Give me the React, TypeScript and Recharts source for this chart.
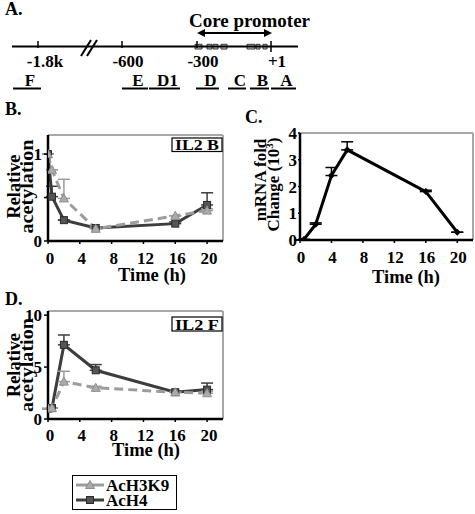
import { ComposedChart, LineChart, Line, XAxis, YAxis, ErrorBar, ReferenceLine, ReferenceArea } from 'recharts';

const SERIF = '"Liberation Serif", "Times New Roman", serif';
const H4_COLOR = '#3d3d3d';
const H3_COLOR = '#9c9c9c';
const FRAME = '#a8a8a8';

// panel A: IL2 locus schematic, in drawing units along the line
const siteLabels = ['-1.8k', '-600', '-300', '+1'];
const sitePos = [38, 122, 197, 271];
const regionNames = ['F', 'E', 'D1', 'D', 'C', 'B', 'A'];
const regionFrom = [13, 122, 149, 196, 228, 250, 271];
const regionTo = [41, 148, 180, 219, 246, 269, 296];
const elementFrom = [195, 207, 213, 221, 247, 256, 263];
const elementTo = [202, 212, 218, 227, 255, 260, 267];

// panels B and D: ChIP time course
const hoursChip = [0, 0.5, 2, 6, 16, 20];
const il2bH3K9 = [1.0, 0.82, 0.49, 0.14, 0.29, 0.35];
const il2bH3K9Err = [0, 0, 0.22, 0.02, 0, 0.02];
const il2bH4 = [1.0, 0.51, 0.24, 0.15, 0.2, 0.415];
const il2bH4Err = [0, 0.12, 0, 0, 0.02, 0.14];
const il2fH3K9 = [1.0, 1.05, 3.6, 3.0, 2.58, 2.48];
const il2fH3K9Err = [0, 0, 1.0, 0.15, 0, 0.2];
const il2fH4 = [1.0, 1.05, 7.14, 4.69, 2.58, 2.83];
const il2fH4Err = [0, 0, 0.95, 0.55, 0.1, 0.63];

// panel C: mRNA fold change (x10^3)
const hoursMrna = [0, 0.5, 2, 4, 6, 16, 20];
const mrnaFold = [0, 0.02, 0.59, 2.41, 3.37, 1.81, 0.29];
const mrnaErr = [0, 0, 0.05, 0.3, 0.3, 0.05, 0];

const timeTicks = [0, 4, 8, 12, 16, 20];
const legendNames = ['AcH3K9', 'AcH4'];

const tickStyle = { fill: '#000', fontSize: 17, fontWeight: 700, fontFamily: SERIF };
const axisLine = { stroke: '#000', strokeWidth: 2.5 };
const tickLine = { stroke: '#000', strokeWidth: 1.5 };

function chipRows(h3: number[], h3Err: number[], h4: number[], h4Err: number[]) {
  return hoursChip.map((t, i) => ({ t, h3: h3[i], h3Err: [0, h3Err[i]], h4: h4[i], h4Err: [0, h4Err[i]] }));
}

const SquareDot = (p: any) =>
  p.cx == null ? null : (
    <rect key={`sq-${p.index}`} x={p.cx - 3.5} y={p.cy - 3.5} width={7} height={7} fill="#555" stroke="#2a2a2a" strokeWidth={1} />
  );

const TriangleDot = (p: any) =>
  p.cx == null ? null : (
    <polygon
      key={`tr-${p.index}`}
      points={`${p.cx},${p.cy - 4.5} ${p.cx - 4.5},${p.cy + 3.5} ${p.cx + 4.5},${p.cy + 3.5}`}
      fill="#ababab"
      stroke="#8e8e8e"
      strokeWidth={1}
    />
  );

const DiamondDot = (p: any) =>
  p.cx == null ? null : (
    <polygon
      key={`dm-${p.index}`}
      points={`${p.cx},${p.cy - 3.5} ${p.cx + 3.5},${p.cy} ${p.cx},${p.cy + 3.5} ${p.cx - 3.5},${p.cy}`}
      fill="#000"
    />
  );

interface ChipPanelProps {
  rows: ReturnType<typeof chipRows>;
  yMax: number;
  yTicks: number[];
  hideTick?: number;
  top: number;
  bottom: number;
  tickGap: number;
}

function ChipPanel({ rows, yMax, yTicks, hideTick, top, bottom, tickGap }: ChipPanelProps) {
  return (
    <LineChart width={235} height={185} data={rows} margin={{ top, right: 12, bottom: 0, left: 0 }}>
      <ReferenceLine y={yMax} stroke={FRAME} strokeWidth={2} ifOverflow="visible" />
      <ReferenceLine x={22} stroke={FRAME} strokeWidth={2} ifOverflow="visible" />
      <XAxis
        dataKey="t"
        type="number"
        domain={[0, 22]}
        ticks={timeTicks}
        allowDataOverflow
        axisLine={axisLine}
        tickLine={tickLine}
        tickSize={3}
        tickMargin={tickGap}
        height={bottom}
        tick={{ ...tickStyle, dx: 2 }}
        interval={0}
      />
      <YAxis
        type="number"
        domain={[0, yMax]}
        ticks={yTicks}
        allowDataOverflow
        axisLine={axisLine}
        tickLine={tickLine}
        tickSize={4}
        tickMargin={2}
        width={48}
        tick={tickStyle}
        interval={0}
        tickFormatter={(v: number) => (v === hideTick ? '' : String(v))}
      />
      <Line
        dataKey="h4"
        type="linear"
        stroke={H4_COLOR}
        strokeWidth={3}
        dot={SquareDot}
        activeDot={false}
        isAnimationActive={false}
      >
        <ErrorBar dataKey="h4Err" width={6} stroke={H4_COLOR} strokeWidth={1.5} direction="y" />
      </Line>
      <Line
        dataKey="h3"
        type="linear"
        stroke={H3_COLOR}
        strokeWidth={3}
        strokeDasharray="9 5"
        dot={TriangleDot}
        activeDot={false}
        isAnimationActive={false}
      >
        <ErrorBar dataKey="h3Err" width={6} stroke={H3_COLOR} strokeWidth={1.5} direction="y" />
      </Line>
    </LineChart>
  );
}

function MrnaPanel() {
  const rows = hoursMrna.map((t, i) => ({ t, fold: mrnaFold[i], err: [0, mrnaErr[i]] }));
  return (
    <LineChart width={225} height={185} data={rows} margin={{ top: 40, right: 2, bottom: 0, left: 0 }}>
      <ReferenceLine y={4} stroke={FRAME} strokeWidth={2} ifOverflow="visible" />
      <ReferenceLine x={22} stroke={FRAME} strokeWidth={2} ifOverflow="visible" />
      <XAxis
        dataKey="t"
        type="number"
        domain={[0, 22]}
        ticks={timeTicks}
        allowDataOverflow
        axisLine={axisLine}
        tickLine={tickLine}
        tickSize={3}
        tickMargin={8}
        height={38}
        tick={{ ...tickStyle, dx: 1 }}
        interval={0}
      />
      <YAxis
        type="number"
        domain={[0, 4]}
        ticks={[0, 1, 2, 3, 4]}
        allowDataOverflow
        axisLine={axisLine}
        tickLine={tickLine}
        tickSize={2}
        tickMargin={1}
        width={50}
        tick={tickStyle}
        interval={0}
      />
      <Line
        dataKey="fold"
        type="linear"
        stroke="#000"
        strokeWidth={3}
        dot={DiamondDot}
        activeDot={false}
        isAnimationActive={false}
      >
        <ErrorBar dataKey="err" width={6} stroke="#000" strokeWidth={1.5} direction="y" />
      </Line>
    </LineChart>
  );
}

const DoubleArrow = (p: any) => {
  const { x1, y1, x2, y2 } = p;
  if (x1 == null) return null;
  return (
    <g>
      <line x1={x1 + 4} y1={y1} x2={x2 - 4} y2={y2} stroke="#000" strokeWidth={2} />
      <polygon points={`${x1},${y1} ${x1 + 8},${y1 - 4} ${x1 + 8},${y1 + 4}`} fill="#000" />
      <polygon points={`${x2},${y2} ${x2 - 8},${y2 - 4} ${x2 - 8},${y2 + 4}`} fill="#000" />
    </g>
  );
};

function LocusPanel() {
  const rows = sitePos.map((x) => ({ x }));
  return (
    <ComposedChart width={475} height={95} data={rows} margin={{ top: 0, right: 0, bottom: 0, left: 0 }}>
      <XAxis dataKey="x" type="number" domain={[0, 475]} hide allowDataOverflow />
      <YAxis type="number" domain={[0, 95]} reversed hide allowDataOverflow />
      <ReferenceLine segment={[{ x: 12, y: 46.5 }, { x: 298, y: 46.5 }]} stroke="#000" strokeWidth={2} ifOverflow="visible" />
      {sitePos.map((x, i) => (
        <ReferenceLine
          key={siteLabels[i]}
          segment={[{ x, y: 41 }, { x, y: i === sitePos.length - 1 ? 52 : 48 }]}
          stroke="#000"
          strokeWidth={1.5}
          ifOverflow="visible"
        />
      ))}
      <ReferenceLine segment={[{ x: 81, y: 56 }, { x: 91, y: 40 }]} stroke="#000" strokeWidth={2} ifOverflow="visible" />
      <ReferenceLine segment={[{ x: 87, y: 56 }, { x: 97, y: 40 }]} stroke="#000" strokeWidth={2} ifOverflow="visible" />
      {elementFrom.map((x1, i) => (
        <ReferenceArea
          key={`el-${i}`}
          x1={x1}
          x2={elementTo[i]}
          y1={44.3}
          y2={49}
          fill="#c8c8c8"
          fillOpacity={1}
          stroke="#333"
          strokeWidth={1}
          ifOverflow="visible"
        />
      ))}
      <ReferenceLine segment={[{ x: 197, y: 33 }, { x: 272, y: 33 }]} shape={DoubleArrow} ifOverflow="visible" />
      {regionFrom.map((x1, i) => (
        <ReferenceLine
          key={regionNames[i]}
          segment={[{ x: x1, y: 88.5 }, { x: regionTo[i], y: 88.5 }]}
          stroke="#000"
          strokeWidth={2}
          ifOverflow="visible"
        />
      ))}
    </ComposedChart>
  );
}

const textProps = { fontFamily: SERIF, fontWeight: 700, fill: '#000' };

function VLabel({ x, y, lines, size, lengths }: { x: number[]; y: number; lines: React.ReactNode[]; size: number; lengths?: number[] }) {
  return (
    <>
      {lines.map((line, i) => (
        <text
          key={i}
          transform={`translate(${x[i]},${y}) rotate(-90)`}
          textAnchor="middle"
          fontSize={size}
          textLength={lengths ? lengths[i] : undefined}
          lengthAdjust="spacingAndGlyphs"
          {...textProps}
        >
          {line}
        </text>
      ))}
    </>
  );
}

function Overlay() {
  return (
    <svg width={475} height={514} style={{ position: 'absolute', left: 0, top: 0, pointerEvents: 'none' }}>
      <text x={5} y={15} fontSize={18} {...textProps}>A.</text>
      <text x={189} y={27} fontSize={18} textLength={121} lengthAdjust="spacingAndGlyphs" {...textProps}>Core promoter</text>
      {siteLabels.map((label, i) => (
        <text key={label} x={sitePos[i] + (i === 0 ? 7 : 6)} y={66.5} fontSize={17} textAnchor="middle" {...textProps}>
          {label}
        </text>
      ))}
      {regionNames.map((name, i) => (
        <text key={name} x={(regionFrom[i] + regionTo[i]) / 2 + 3} y={86} fontSize={17} textAnchor="middle" {...textProps}>
          {name}
        </text>
      ))}

      <text x={5} y={115} fontSize={18} {...textProps}>B.</text>
      <VLabel x={[20, 33]} y={186.5} lines={['Relative', 'acetylation']} size={18} lengths={[64, 94]} />
      <rect x={172} y={138} width={50} height={13.5} fill="#fff" stroke="#000" strokeWidth={1.2} />
      <text x={197} y={150} fontSize={15} textAnchor="middle" textLength={44} lengthAdjust="spacingAndGlyphs" {...textProps}>IL2 B</text>
      <text x={152} y={280.5} fontSize={18} textAnchor="middle" textLength={68} lengthAdjust="spacingAndGlyphs" {...textProps}>Time (h)</text>

      <text x={245} y={123} fontSize={18} {...textProps}>C.</text>
      <text transform="translate(265.5,180) rotate(-90)" textAnchor="middle" fontSize={17} {...textProps}>mRNA fold</text>
      <text transform="translate(279,184.5) rotate(-90)" textAnchor="middle" fontSize={17} {...textProps}>
        Change (10<tspan fontSize={11} dy={-6}>3</tspan><tspan dy={6}>)</tspan>
      </text>
      <text x={406} y={282.5} fontSize={18} textAnchor="middle" textLength={68} lengthAdjust="spacingAndGlyphs" {...textProps}>Time (h)</text>

      <text x={5} y={305} fontSize={18} {...textProps}>D.</text>
      <VLabel x={[20, 33]} y={365} lines={['Relative', 'acetylation']} size={18} lengths={[64, 94]} />
      <rect x={172} y={317} width={50} height={14} fill="#fff" stroke="#000" strokeWidth={1.2} />
      <text x={197} y={329.5} fontSize={15} textAnchor="middle" textLength={44} lengthAdjust="spacingAndGlyphs" {...textProps}>IL2 F</text>
      <text x={146} y={456} fontSize={18} textAnchor="middle" textLength={68} lengthAdjust="spacingAndGlyphs" {...textProps}>Time (h)</text>
    </svg>
  );
}

function Legend() {
  const icons = [TriangleDot, SquareDot];
  const colors = [H3_COLOR, H4_COLOR];
  return (
    <div
      style={{
        position: 'absolute',
        left: 72,
        top: 475,
        width: 105,
        height: 35,
        border: '1.5px solid #000',
        fontFamily: SERIF,
        fontWeight: 700,
        fontSize: 17,
        lineHeight: '15px',
        paddingTop: 1.5,
        boxSizing: 'border-box',
      }}
    >
      {legendNames.map((name, i) => (
        <div key={name} style={{ display: 'flex', alignItems: 'center', height: 15 }}>
          <svg width={30} height={12} style={{ marginLeft: 2 }}>
            <line x1={1} y1={6} x2={29} y2={6} stroke={colors[i]} strokeWidth={3} />
            {icons[i]({ cx: 15, cy: 6, index: i })}
          </svg>
          <span style={{ marginLeft: 1 }}>{name}</span>
        </div>
      ))}
    </div>
  );
}

export default function App() {
  return (
    <div style={{ position: 'absolute', left: 0, top: 0, width: 475, height: 514, background: '#fff', overflow: 'hidden' }}>
      <div style={{ position: 'absolute', left: 0, top: 0 }}>
        <LocusPanel />
      </div>
      <div style={{ position: 'absolute', left: 0, top: 95 }}>
        <ChipPanel
          rows={chipRows(il2bH3K9, il2bH3K9Err, il2bH4, il2bH4Err)}
          yMax={1.22}
          yTicks={[0, 0.5, 1]}
          hideTick={0.5}
          top={40}
          bottom={39}
          tickGap={8}
        />
      </div>
      <div style={{ position: 'absolute', left: 250, top: 93 }}>
        <MrnaPanel />
      </div>
      <div style={{ position: 'absolute', left: 0, top: 270 }}>
        <ChipPanel
          rows={chipRows(il2fH3K9, il2fH3K9Err, il2fH4, il2fH4Err)}
          yMax={10.4}
          yTicks={[0, 5, 10]}
          top={41}
          bottom={36}
          tickGap={7}
        />
      </div>
      <Overlay />
      <Legend />
    </div>
  );
}
